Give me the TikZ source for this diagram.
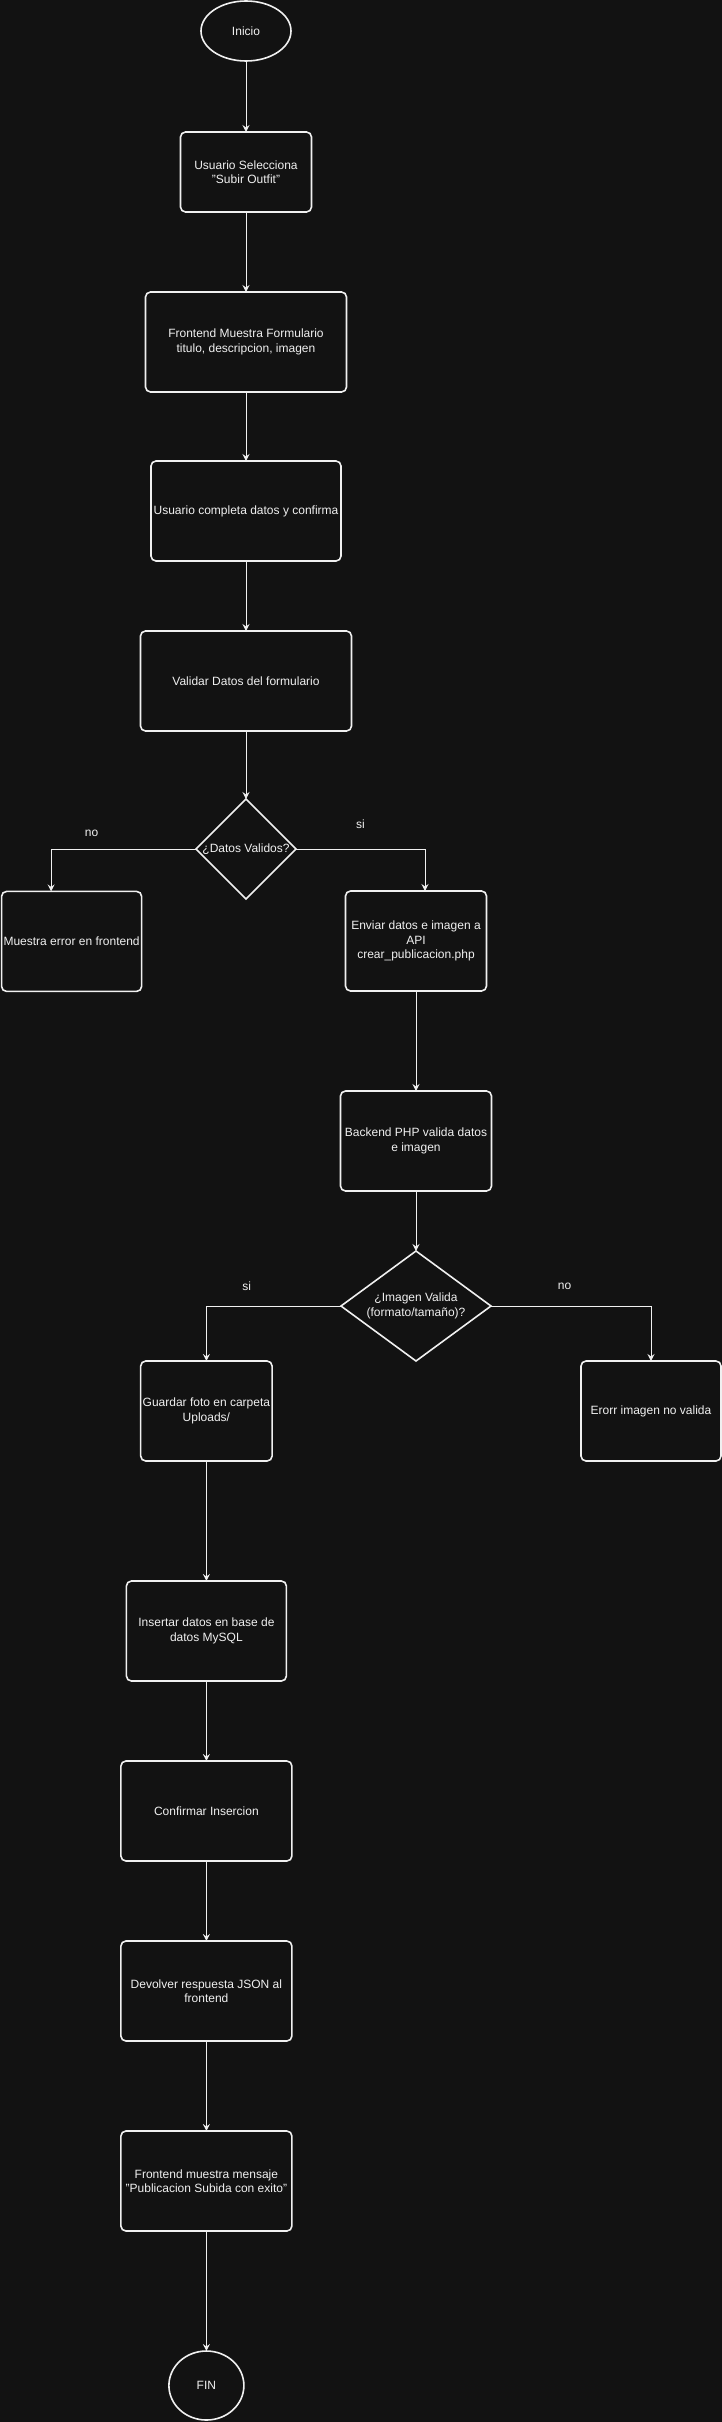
\documentclass[tikz,border=0pt]{standalone}
\usepackage{fontspec}
\setmainfont{Liberation Sans}
\usetikzlibrary{shapes.geometric, arrows.meta, positioning}
\definecolor{fondo}{HTML}{121212}
\definecolor{trazo}{HTML}{F0F0F0}

\begin{document}
\begin{tikzpicture}[
      x=1pt, y=-1pt,
      font=\fontsize{12}{14.4}\selectfont,
      paso/.style={rectangle, draw=trazo, line width=1.6pt, rounded corners=5pt, minimum height=100pt, inner sep=2pt, outer sep=0pt, align=center, text=trazo},
      extremo/.style={ellipse, draw=trazo, line width=1.6pt, inner sep=0pt, outer sep=0pt, text=trazo},
      decision/.style={diamond, draw=trazo, line width=1.6pt, inner sep=0pt, outer sep=0pt, align=center, text=trazo},
      flecha/.style={-{Stealth[length=7pt, width=7pt, inset=2.5pt]}, draw=trazo, line width=1pt},
      etiqueta/.style={text=trazo, inner sep=0pt}
    ]
    \fill[fondo] (0,0) rectangle (722,2422);
    \useasboundingbox (0,0) rectangle (722,2422);

    \node[extremo, minimum width=90pt, minimum height=60pt] (inicio) at (246,31) {Inicio};
    \node[paso, minimum width=131pt, minimum height=80pt, below=71pt of inicio] (selecciona) {Usuario Selecciona\\"Subir Outfit"};
    \node[paso, minimum width=201pt, below=80pt of selecciona] (formulario) {Frontend Muestra Formulario\\titulo, descripcion, imagen};
    \node[paso, minimum width=190pt, below=69pt of formulario] (completa) {Usuario completa datos y confirma};
    \node[paso, minimum width=211pt, below=70pt of completa] (validar) {Validar Datos del formulario};
    \node[decision, minimum width=100pt, minimum height=100pt, below=68pt of validar] (datosok) {¿Datos Validos?};

    \node[paso, minimum width=140pt] (errorfront) at (71.6,941.4) {Muestra error en frontend};
    \node[paso, minimum width=141pt] (enviar) at (416,941) {Enviar datos e imagen a\\API\\crear\_publicacion.php};
    \node[paso, minimum width=151pt, below=100pt of enviar] (backend) {Backend PHP valida datos\\e imagen};
    \node[decision, aspect=1.36, minimum width=150pt, minimum height=110pt, below=60pt of backend] (imagenok) {¿Imagen Valida\\(formato/tamaño)?};

    \node[paso, minimum width=131pt] (guardar) at (206.4,1411) {Guardar foto en carpeta\\Uploads/};
    \node[paso, minimum width=140pt] (errorimg) at (651,1411) {Erorr imagen no valida};
    \node[paso, minimum width=160pt, below=120pt of guardar] (insertar) {Insertar datos en base de\\datos MySQL};
    \node[paso, minimum width=171pt, below=80pt of insertar] (confirmar) {Confirmar Insercion};
    \node[paso, minimum width=171pt, below=80pt of confirmar] (devolver) {Devolver respuesta JSON al\\frontend};
    \node[paso, minimum width=171pt, below=90pt of devolver] (mensaje) {Frontend muestra mensaje\\"Publicacion Subida con exito"};
    \node[extremo, minimum width=75pt, minimum height=69pt, below=120pt of mensaje] (fin) {FIN};

    \draw[flecha] (inicio) -- (selecciona);
    \draw[flecha] (selecciona) -- (formulario);
    \draw[flecha] (formulario) -- (completa);
    \draw[flecha] (completa) -- (validar);
    \draw[flecha] (validar) -- (datosok);
    \draw[flecha] (datosok.west) -| node[etiqueta, pos=0.36, yshift=15.6pt] (lblno1) {no} ([xshift=-20.5pt]errorfront.north);
    \draw[flecha] (datosok.east) -| node[etiqueta, pos=0.25, yshift=25pt] (lblsi1) {si} ([xshift=9pt]enviar.north);
    \draw[flecha] (enviar) -- (backend);
    \draw[flecha] (backend) -- (imagenok);
    \draw[flecha] (imagenok.west) -| node[etiqueta, pos=0.35, yshift=20pt] (lblsi2) {si} (guardar.north);
    \draw[flecha] (imagenok.east) -| node[etiqueta, pos=0.23, yshift=20pt] (lblno2) {no} (errorimg.north);
    \draw[flecha] (guardar) -- (insertar);
    \draw[flecha] (insertar) -- (confirmar);
    \draw[flecha] (confirmar) -- (devolver);
    \draw[flecha] (devolver) -- (mensaje);
    \draw[flecha] (mensaje) -- (fin);
  \end{tikzpicture}
\end{document}
